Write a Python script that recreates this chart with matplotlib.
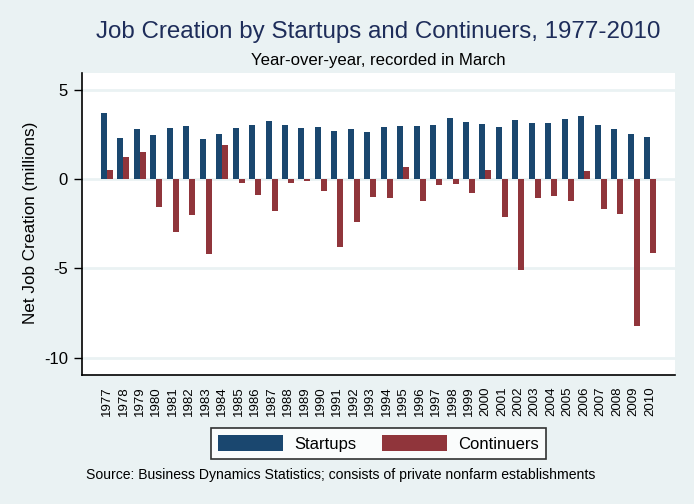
import matplotlib
matplotlib.use("Agg")
import matplotlib.pyplot as plt
import numpy as np
from matplotlib.patches import Patch

years = [str(y) for y in range(1977, 2011)]
startups = [3.71, 2.31, 2.81, 2.48, 2.87, 2.98, 2.25, 2.53, 2.87, 3.04,
            3.26, 3.04, 2.87, 2.93, 2.70, 2.81, 2.65, 2.93, 2.98, 2.98,
            3.04, 3.43, 3.21, 3.10, 2.93, 3.32, 3.15, 3.15, 3.38, 3.55,
            3.04, 2.81, 2.53, 2.36]
continuers = [0.51, 1.24, 1.52, -1.58, -2.98, -2.03, -4.22, 1.91, -0.23, -0.90,
              -1.80, -0.23, -0.11, -0.68, -3.83, -2.42, -1.01, -1.07, 0.68, -1.24,
              -0.34, -0.28, -0.79, 0.51, -2.14, -5.12, -1.07, -0.96, -1.24, 0.45,
              -1.69, -1.97, -8.21, -4.16]
series_names = ["Startups", "Continuers"]
yticks = [-10, -5, 0, 5]

BG = "#eaf2f3"
C1 = "#1a476f"
C2 = "#90353b"
plt.rcParams['font.family'] = ['Liberation Sans', 'DejaVu Sans']

fig = plt.figure(figsize=(6.94, 5.04), dpi=100, facecolor=BG)
W, H = 694, 504
ax = fig.add_axes([82 / W, 1 - 375 / H, (675 - 82) / W, (375 - 73) / H])
ax.set_facecolor("white")

x = np.arange(len(years))
bw = 0.365
ax.bar(x - bw / 2, startups, bw, color=C1, label=series_names[0], zorder=3)
ax.bar(x + bw / 2, continuers, bw, color=C2, label=series_names[1], zorder=3)

ax.set_xlim(-1.52, len(years) - 1 + 1.52)
ax.set_ylim(-10.98, 5.95)
ax.set_yticks(yticks)
ax.set_yticklabels([str(t) for t in yticks], fontsize=12)
ax.yaxis.grid(True, color=BG, linewidth=2, zorder=0)
ax.set_axisbelow(True)
ax.set_xticks(x)
ax.set_xticklabels(years, rotation=90, fontsize=9.5)
ax.tick_params(axis='x', length=0, pad=8)
ax.tick_params(axis='y', length=6, width=1, pad=4)
for s in ["top", "right"]:
    ax.spines[s].set_visible(False)
for s in ["left", "bottom"]:
    ax.spines[s].set_linewidth(1.2)
ax.set_ylabel("Net Job Creation (millions)", fontsize=12.3)
ax.yaxis.set_label_coords((38 - 82) / 593, 0.503)

cx = (82 + 675) / 2 / W
fig.text(cx, 1 - 32 / H, "Job Creation by Startups and Continuers, 1977-2010",
         ha="center", va="center", fontsize=17.4, color="#1e2d5a")
fig.text(cx, 1 - 60 / H, "Year-over-year, recorded in March",
         ha="center", va="center", fontsize=12.1)
fig.text(86 / W, 1 - 475 / H,
         "Source: Business Dynamics Statistics; consists of private nonfarm establishments",
         ha="left", va="center", fontsize=10.1)

handles = [Patch(facecolor=C1), Patch(facecolor=C2)]
leg = fig.legend(handles, series_names, loc="center", bbox_to_anchor=(cx, 1 - 443.5 / H),
                 ncol=2, fontsize=12, frameon=True, fancybox=False,
                 handlelength=3.9, handleheight=1.1, columnspacing=1.55,
                 handletextpad=0.66, borderpad=0.45, borderaxespad=0)
leg.get_frame().set_edgecolor("black")
leg.get_frame().set_linewidth(1.2)
leg.get_frame().set_facecolor("white")

fig.savefig("out.png", dpi=100, facecolor=BG)
